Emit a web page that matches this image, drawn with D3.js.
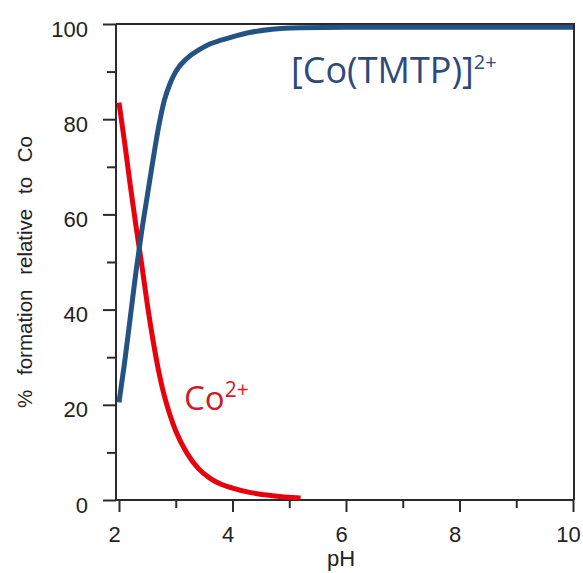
<!DOCTYPE html>
<html><head><meta charset="utf-8">
<script src="https://cdn.jsdelivr.net/npm/d3@7"></script>
<style>
html,body{margin:0;padding:0;background:#fff;}
svg{display:block;}
</style></head>
<body>
<script>
// ---- data ----
const complexPH = [2.00,2.10,2.20,2.30,2.40,2.50,2.60,2.70,2.80,2.90,3.00,3.20,3.40,3.60,3.80,4.00,4.30,4.70,5.20,6.00,7.00,8.00,9.00,10.00];
const complexPct = [20.5,29,38.5,48,56.5,64,71.5,78.5,84,87.5,90,92.8,94.5,95.8,96.6,97.3,98.2,98.9,99.2,99.3,99.3,99.3,99.3,99.3];
const cobaltPH = [2.00,2.10,2.20,2.30,2.40,2.50,2.60,2.70,2.80,2.90,3.00,3.20,3.40,3.60,3.80,4.00,4.30,4.70,5.20];
const cobaltPct = [83.5,75,66,57.5,49.5,41,33.5,27,21.8,17.8,14.5,9.8,6.6,4.6,3.3,2.5,1.6,0.9,0.4];
const xMajorTicks = [2,4,6,8,10];
const xMinorTicks = [3,5,7,9];
const yMajorTicks = [0,20,40,60,80,100];
const yMinorTicks = [10,30,50,70,90];
const xTitle = "pH";
const yTitle = "% formation relative to Co";

(function(){
const W = 583, H = 573;
const svg = d3.select("body").append("svg").attr("width", W).attr("height", H);

const x = d3.scaleLinear().domain([2,10]).range([119,573]);
const y = d3.scaleLinear().domain([0,100]).range([500,24]);
const pL = 116, pR = 574, pT = 24, pB = 500;
const axisColor = "#2b2b2b";
const tickFont = "'Liberation Sans', Arial, sans-serif";

// frame (top and right)
svg.append("path").attr("d", `M${pL},${pT}H${pR}V${pB}`)
  .attr("fill","none").attr("stroke",axisColor).attr("stroke-width",2);

// y axis
const gy = svg.append("g").attr("transform",`translate(${pL},0)`);
gy.call(d3.axisLeft(y).tickValues(yMajorTicks).tickSize(13).tickPadding(15).tickFormat(d3.format("d")));
const gyMinor = svg.append("g").attr("transform",`translate(${pL},0)`)
  .call(d3.axisLeft(y).tickValues(yMinorTicks).tickSize(9).tickFormat(""));
gyMinor.select(".domain").remove();

// x axis
const gx = svg.append("g").attr("transform",`translate(0,${pB})`);
gx.call(d3.axisBottom(x).tickValues(xMajorTicks).tickSize(12).tickPadding(14).tickFormat(d3.format("d")));
const gxMinor = svg.append("g").attr("transform",`translate(0,${pB})`)
  .call(d3.axisBottom(x).tickValues(xMinorTicks).tickSize(8).tickFormat(""));
gxMinor.select(".domain").remove();

[gy, gx, gyMinor, gxMinor].forEach(g=>{
  g.selectAll("line").attr("stroke",axisColor).attr("stroke-width",2);
  g.selectAll(".domain").attr("stroke",axisColor).attr("stroke-width",2);
  g.selectAll("text").attr("fill","#222").style("font-family",tickFont).style("font-size","22px");
});
gy.select(".domain").attr("d", `M0,${pT}V${pB}`);
gx.select(".domain").attr("d", `M${pL},0H${pR}`);
gy.selectAll("text").attr("dy","0.55em");
gx.selectAll("text").attr("dx","-5");

// axis titles
svg.append("text").attr("x", 341).attr("y", 566).attr("text-anchor","middle")
  .style("font-family",tickFont).style("font-size","22px").attr("fill","#222").text(xTitle);
svg.append("text").attr("transform","translate(32,272) rotate(-90)").attr("text-anchor","middle")
  .style("font-family",tickFont).style("font-size","20.5px").style("word-spacing","9px")
  .attr("fill","#222").text(yTitle);

// curves
const line = d3.line().x(d=>x(d[0])).y(d=>y(d[1])).curve(d3.curveMonotoneX);
const complexData = complexPH.map((p,i)=>[p, complexPct[i]]);
const cobaltData = cobaltPH.map((p,i)=>[p, cobaltPct[i]]);
svg.append("path").datum(cobaltData).attr("d", line).attr("fill","none")
  .attr("stroke","#e8000d").attr("stroke-width",5);
svg.append("path").datum(complexData).attr("d", line).attr("fill","none")
  .attr("stroke","#245282").attr("stroke-width",5);

// labels
const lab1 = svg.append("text").attr("x", 291).attr("y", 83)
  .style("font-family","'Open Sans', sans-serif").style("font-size","36px").attr("fill","#2c4a7a");
lab1.append("tspan").text("[Co(TMTP)]");
lab1.append("tspan").attr("dy",-14).style("font-size","20px").text("2+");

const lab2 = svg.append("text").attr("x", 184).attr("y", 410)
  .style("font-family","'Open Sans', sans-serif").style("font-size","33px").attr("fill","#d01c24");
lab2.append("tspan").text("Co");
lab2.append("tspan").attr("dy",-13).style("font-size","21px").text("2+");
})();
</script>
</body></html>
